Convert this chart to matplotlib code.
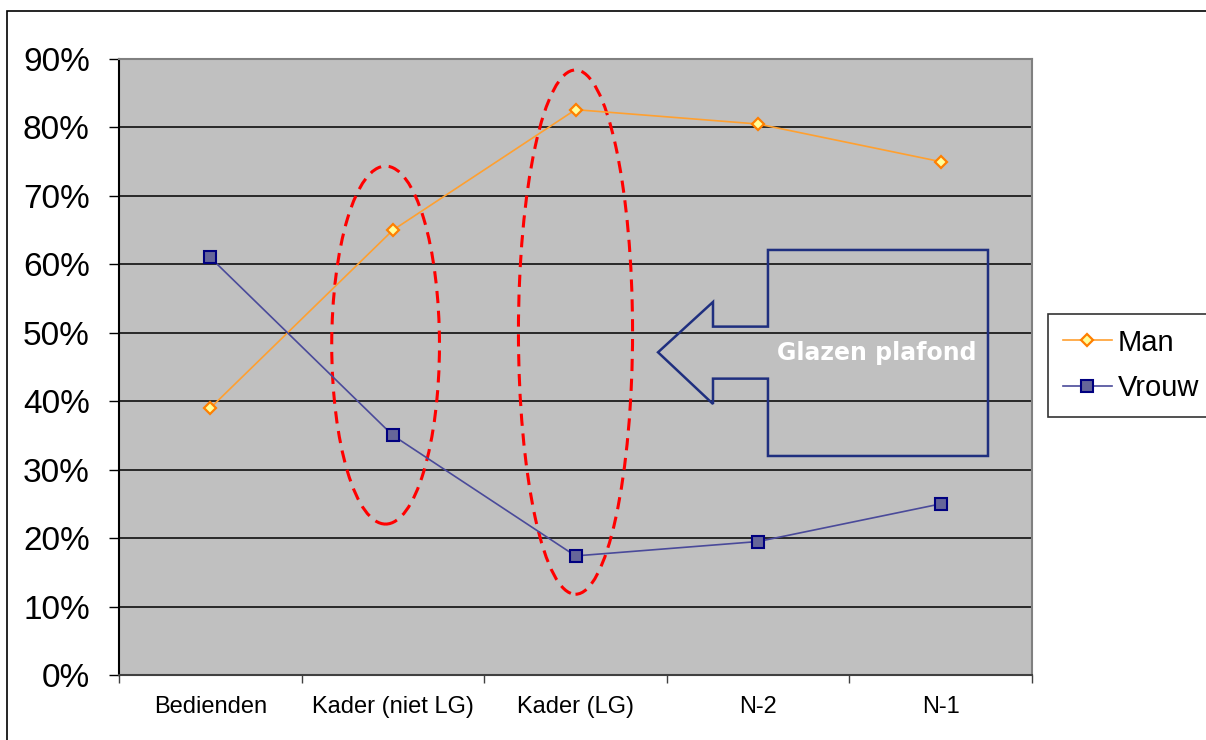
import numpy as np
import matplotlib.pyplot as plt
from matplotlib.patches import Ellipse, Polygon, Rectangle
from matplotlib.ticker import FixedLocator, PercentFormatter

plt.rcParams['font.family'] = ['Liberation Sans', 'DejaVu Sans']

# share of men and women per level (%)
categories = ['Bedienden', 'Kader (niet LG)', 'Kader (LG)', 'N-2', 'N-1']
man = [39.0, 65.0, 82.6, 80.5, 75.0]
vrouw = [61.0, 35.0, 17.4, 19.5, 25.0]

x = np.arange(len(categories))

fig = plt.figure(figsize=(12.06, 7.40), dpi=100)
fig.patch.set_facecolor('white')

# outer chart border (only top and left fall inside the image)
fig.patches.append(Rectangle((7 / 1206, -0.05), 1.2, 1 - 11 / 740 + 0.05,
                             transform=fig.transFigure, fill=False,
                             edgecolor='black', linewidth=1.2))

ax = fig.add_axes([119 / 1206, 65 / 740, (1032 - 119) / 1206, (675 - 59) / 740])
ax.set_facecolor('#C0C0C0')

ax.plot(x, man, color='#FFA030', linewidth=1.2, marker='D', markersize=6.5,
        markerfacecolor='#FFFF99', markeredgecolor='#FF7F00',
        markeredgewidth=1.6, label='Man', zorder=4)
ax.plot(x, vrouw, color='#4A4A9A', linewidth=1.2, marker='s', markersize=8,
        markerfacecolor='#666699', markeredgecolor='#000080',
        markeredgewidth=1.5, label='Vrouw', zorder=4)

ax.set_xlim(-0.5, len(categories) - 0.5)
ax.set_ylim(0, 90)
ax.set_yticks(np.arange(0, 91, 10))
ax.yaxis.set_major_formatter(PercentFormatter(decimals=0))
ax.tick_params(axis='y', labelsize=24, length=7, width=1, pad=14, direction='out')

ax.set_xticks(x)
ax.set_xticklabels(categories)
ax.xaxis.set_minor_locator(FixedLocator(np.arange(-0.5, len(categories), 1)))
ax.tick_params(axis='x', which='major', length=0, labelsize=17, pad=15)
ax.tick_params(axis='x', which='minor', length=6, width=1, color='#404040')

ax.grid(axis='y', color='black', linewidth=1.1)
ax.set_axisbelow(True)
ax.spines['left'].set_color('black')
ax.spines['bottom'].set_color('#404040')
ax.spines['top'].set_color('#808080')
ax.spines['right'].set_color('#808080')
for s in ax.spines.values():
    s.set_linewidth(1.5)

# dashed ellipses around the management levels
for cx, cy, w, h in [(0.96, 48.2, 0.59, 52.3), (2.0, 50.1, 0.625, 76.6)]:
    ax.add_patch(Ellipse((cx, cy), w, h, fill=False, edgecolor='#FF0000',
                         linestyle=(0, (4, 2.5)), linewidth=2.2, zorder=3))

# left-pointing callout arrow
arrow = [(4.259, 62.1), (3.054, 62.1), (3.054, 50.9), (2.753, 50.9),
         (2.753, 54.5), (2.452, 47.15), (2.753, 39.6), (2.753, 43.3),
         (3.054, 43.3), (3.054, 32.0), (4.259, 32.0)]
ax.add_patch(Polygon(arrow, closed=True, fill=False, edgecolor='#1F2F7F',
                     linewidth=1.8, joinstyle='miter', zorder=3))
ax.text(3.651, 47.1, 'Glazen plafond', color='white', fontsize=17,
        fontweight='bold', family='DejaVu Sans', ha='center', va='center',
        zorder=5)

leg = ax.legend(loc='upper left', bbox_to_anchor=(1048 / 1206, 1 - 314 / 740),
                bbox_transform=fig.transFigure, fontsize=21, frameon=True,
                fancybox=False, edgecolor='black', borderaxespad=0,
                handlelength=1.7, handletextpad=0.2, labelspacing=0.6,
                borderpad=0.5)
leg.get_frame().set_linewidth(1.2)

fig.savefig('out.png', dpi=100)
